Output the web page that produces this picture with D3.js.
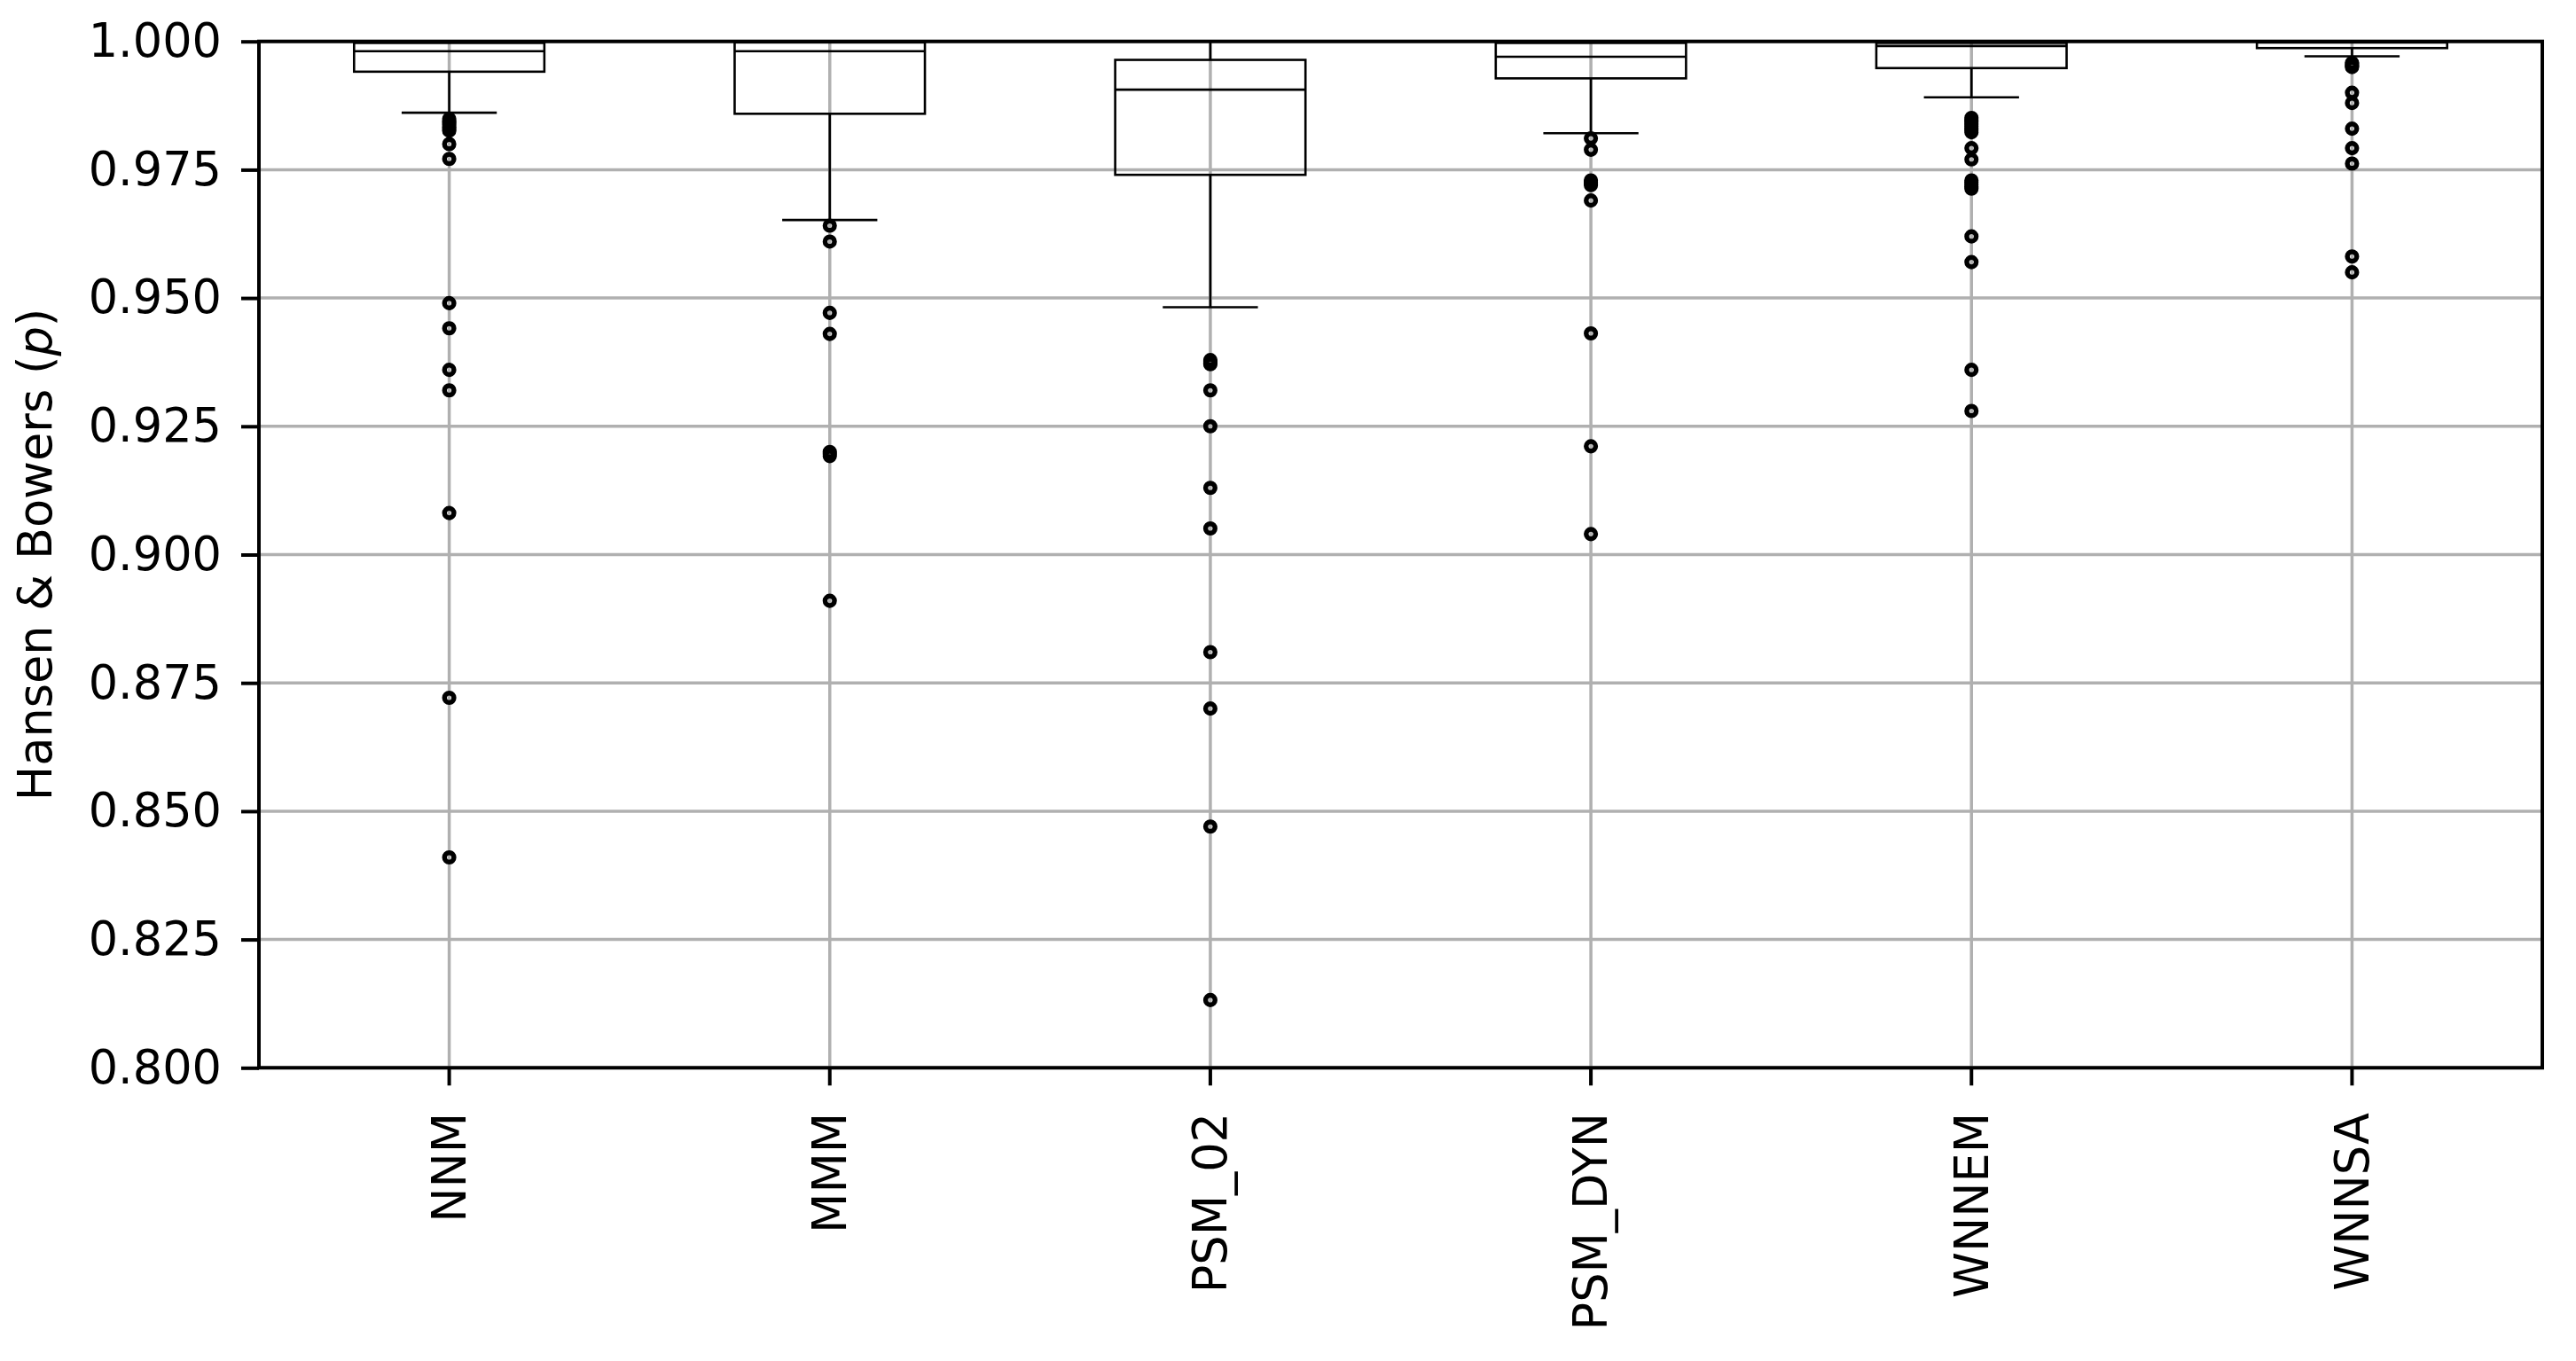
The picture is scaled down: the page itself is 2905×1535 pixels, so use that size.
<!DOCTYPE html>
<html>
<head>
<meta charset="utf-8">
<script src="https://cdn.jsdelivr.net/npm/d3@7"></script>
<style>
  body { margin: 0; background: #fff; }
  svg { display: block; }
</style>
</head>
<body>
<svg id="chart" width="2905" height="1535"></svg>
<script>
(function () {
'use strict';

// --- data ---
var categories = ['NNM', 'MMM', 'PSM_02', 'PSM_DYN', 'WNNEM', 'WNNSA'];

var whiskerHigh = [1.0000, 1.0000, 1.0000, 1.0000, 1.0000, 1.0000];
var q3 = [0.9997, 0.9998, 0.9964, 0.9997, 0.9997, 1.0000];
var median = [0.9981, 0.9981, 0.9906, 0.9970, 0.9991, 0.9998];
var q1 = [0.9941, 0.9859, 0.9740, 0.9928, 0.9948, 0.9987];
var whiskerLow = [0.9861, 0.9652, 0.9482, 0.9821, 0.9891, 0.9971];

var fliers = [
    [0.9849, 0.9845, 0.9841, 0.9837, 0.9833, 0.9829, 0.9826, 0.9800, 0.9771,
     0.9490, 0.9441, 0.9360, 0.9320, 0.9081, 0.8721, 0.8410],
    [0.9641, 0.9610, 0.9471, 0.9430, 0.9200, 0.9196, 0.9192, 0.8910],
    [0.9379, 0.9376, 0.9373, 0.9371, 0.9320, 0.9250, 0.9130, 0.9051, 0.8810,
     0.8700, 0.8470, 0.8132],
    [0.9811, 0.9789, 0.9729, 0.9726, 0.9723, 0.9720, 0.9690, 0.9431, 0.9211, 0.9040],
    [0.9851, 0.9847, 0.9843, 0.9839, 0.9835, 0.9831, 0.9827, 0.9823, 0.9792, 0.9770,
     0.9729, 0.9725, 0.9721, 0.9717, 0.9713, 0.9620, 0.9570, 0.9360, 0.9280],
    [0.9958, 0.9955, 0.9952, 0.9950, 0.9900, 0.9880, 0.9830, 0.9792, 0.9762,
     0.9581, 0.9550]
];

var yTicks = [0.800, 0.825, 0.850, 0.875, 0.900, 0.925, 0.950, 0.975, 1.000];
var yLabel = 'Hansen & Bowers (';

// --- layout ---
var WIDTH = 2905;
var HEIGHT = 1535;
var PLOT_LEFT = 292;
var PLOT_RIGHT = 2867;
var PLOT_TOP = 46.7;
var PLOT_BOTTOM = 1204.3;

var FONT = '"DejaVu Sans", sans-serif';
var FONT_SIZE = 52.5;
var GRID_COLOR = '#b0b0b0';
var GRID_WIDTH = 3.5;
var SPINE_WIDTH = 4;
var BOX_WIDTH = 2.6;
var TICK_LEN = 20;

var svg = d3.select('#chart');

svg.append('rect')
    .attr('width', WIDTH)
    .attr('height', HEIGHT)
    .attr('fill', '#fff');

var x = d3.scaleBand()
    .domain(categories)
    .range([PLOT_LEFT, PLOT_RIGHT])
    .padding(0);

var y = d3.scaleLinear()
    .domain([0.8, 1.0])
    .range([PLOT_BOTTOM, PLOT_TOP]);

var cx = function(c) { return x(c) + x.bandwidth() / 2; };
var boxHalf = x.bandwidth() / 4;
var capHalf = x.bandwidth() / 8;

// grid
var grid = svg.append('g').attr('class', 'grid');
grid.selectAll('line.h')
    .data(yTicks)
    .enter().append('line')
    .attr('class', 'h')
    .attr('x1', PLOT_LEFT)
    .attr('x2', PLOT_RIGHT)
    .attr('y1', function(d) { return y(d); })
    .attr('y2', function(d) { return y(d); })
    .style('stroke', GRID_COLOR)
    .style('stroke-width', GRID_WIDTH);

grid.selectAll('line.v')
    .data(categories)
    .enter().append('line')
    .attr('class', 'v')
    .attr('x1', cx)
    .attr('x2', cx)
    .attr('y1', PLOT_TOP)
    .attr('y2', PLOT_BOTTOM)
    .style('stroke', GRID_COLOR)
    .style('stroke-width', GRID_WIDTH);

// boxes
var boxes = svg.append('g').attr('class', 'boxes')
    .style('stroke', '#000')
    .style('stroke-width', BOX_WIDTH)
    .style('fill', 'none');

categories.forEach(function(c, i) {
    var g = boxes.append('g');
    var xc = cx(c);

    g.append('rect')
        .attr('x', xc - boxHalf)
        .attr('y', y(q3[i]))
        .attr('width', boxHalf * 2)
        .attr('height', y(q1[i]) - y(q3[i]));

    g.append('line')
        .attr('x1', xc - boxHalf).attr('x2', xc + boxHalf)
        .attr('y1', y(median[i])).attr('y2', y(median[i]));

    // whiskers
    g.append('line')
        .attr('x1', xc).attr('x2', xc)
        .attr('y1', y(q1[i])).attr('y2', y(whiskerLow[i]));
    g.append('line')
        .attr('x1', xc).attr('x2', xc)
        .attr('y1', y(q3[i])).attr('y2', y(whiskerHigh[i]));

    // caps
    g.append('line')
        .attr('x1', xc - capHalf).attr('x2', xc + capHalf)
        .attr('y1', y(whiskerLow[i])).attr('y2', y(whiskerLow[i]));
    g.append('line')
        .attr('x1', xc - capHalf).attr('x2', xc + capHalf)
        .attr('y1', y(whiskerHigh[i])).attr('y2', y(whiskerHigh[i]));

    // outliers
    g.selectAll('circle')
        .data(fliers[i])
        .enter().append('circle')
        .attr('cx', xc)
        .attr('cy', function(d) { return y(d); })
        .attr('r', 5.3)
        .style('stroke-width', 5.5);
});

// axes
var yAxis = svg.append('g')
    .attr('transform', 'translate(' + PLOT_LEFT + ',0)')
    .call(d3.axisLeft(y)
        .tickValues(yTicks)
        .tickFormat(d3.format('.3f'))
        .tickSize(TICK_LEN)
        .tickPadding(22));

var xAxis = svg.append('g')
    .attr('transform', 'translate(0,' + PLOT_BOTTOM + ')')
    .call(d3.axisBottom(x)
        .tickSize(TICK_LEN));

[yAxis, xAxis].forEach(function(a) {
    a.select('.domain').remove();
    a.selectAll('.tick line')
        .style('stroke', '#000')
        .style('stroke-width', SPINE_WIDTH);
    a.selectAll('.tick text')
        .style('font-family', FONT)
        .style('font-size', FONT_SIZE + 'px')
        .style('fill', '#000');
});

xAxis.selectAll('.tick text')
    .attr('transform', 'rotate(-90)')
    .attr('x', -50.7)
    .attr('y', 0)
    .attr('dy', '0.35em')
    .attr('text-anchor', 'end');

// frame
svg.append('rect')
    .attr('x', PLOT_LEFT)
    .attr('y', PLOT_TOP)
    .attr('width', PLOT_RIGHT - PLOT_LEFT)
    .attr('height', PLOT_BOTTOM - PLOT_TOP)
    .style('fill', 'none')
    .style('stroke', '#000')
    .style('stroke-width', SPINE_WIDTH);

// y label
var label = svg.append('text')
    .attr('transform', 'translate(58,' + ((PLOT_TOP + PLOT_BOTTOM) / 2) + ') rotate(-90)')
    .attr('text-anchor', 'middle')
    .style('font-family', FONT)
    .style('font-size', FONT_SIZE + 'px')
    .style('fill', '#000');
label.append('tspan').text(yLabel);
label.append('tspan').style('font-style', 'italic').text('p');
label.append('tspan').text(')');

})();
</script>
</body>
</html>
